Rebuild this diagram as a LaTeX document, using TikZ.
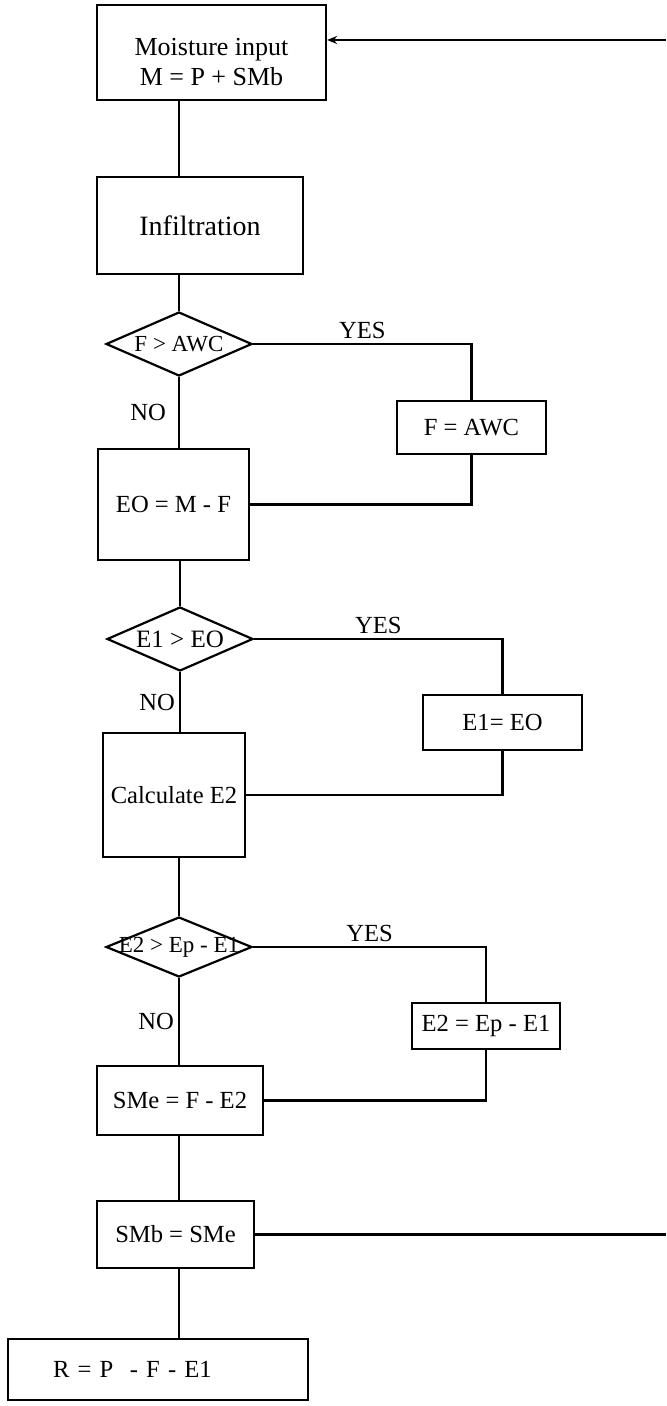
\documentclass[tikz,border=0pt]{standalone}
\usepackage{fontspec}
\setmainfont{Liberation Serif}
\usetikzlibrary{arrows.meta,shapes.geometric}

\begin{document}
\begin{tikzpicture}[x=0.5pt,y=-0.5pt,line width=1.1pt,>={Stealth[length=5pt,width=4pt,open]},
  every node/.style={font=\fontsize{12.3}{15}\selectfont},
  stepbox/.style={draw,rectangle,inner sep=0pt,align=center},
  test/.style={draw,diamond,inner sep=0pt,minimum width=73pt,minimum height=32pt},
  answer/.style={inner sep=2pt}]
\useasboundingbox (0,0) rectangle (666,1406);
% boxes of the main column
\node[stepbox,minimum width=114.5pt,minimum height=47.5pt,font=\fontsize{13}{15}\selectfont] (moist) at (211.5,52.5) {\rule{0pt}{18pt}Moisture input\\ M = P + SMb};
\node[stepbox,minimum width=103pt,minimum height=48.5pt,font=\fontsize{14}{16}\selectfont] (infil) at (200,225.5) {Infiltration};
\node[test,label={center:{\fontsize{11.5}{13}\selectfont F > AWC}}] (dec1) at (179,344) {};
\node[stepbox,minimum width=75.5pt,minimum height=55.5pt] (eo) at (173.5,504.5) {EO = M - F};
\node[test,label={center:{\fontsize{12.5}{13}\selectfont E1 > EO}}] (dec2) at (180,639) {};
\node[stepbox,minimum width=71pt,minimum height=62pt] (calc) at (174,795) {Calculate E2};
\node[test,minimum height=30pt,label={center:{\fontsize{11.5}{13}\selectfont E2 > Ep - E1}}] (dec3) at (179,947) {};
\node[stepbox,minimum width=83pt,minimum height=34.5pt] (sme) at (180,1100.5) {SMe = F - E2};
\node[stepbox,minimum width=78.5pt,minimum height=33.5pt] (smb) at (175.5,1234.5) {SMb = SMe};
\node[stepbox,minimum width=150pt,minimum height=30.5pt,text width=105pt,inner xsep=22.5pt,align=left] (rbox) at (158,1369.5) {R = P \ - F - E1};
% boxes of the YES branches
\node[stepbox,minimum width=74.5pt,minimum height=26.5pt] (fawc) at (471.5,427.5) {F = AWC};
\node[stepbox,minimum width=79.5pt,minimum height=27.5pt] (e1eo) at (502.5,722.5) {E1= EO};
\node[stepbox,minimum width=74pt,minimum height=23pt] (e2ep) at (486,1026) {E2 = Ep - E1};
% loop ends at the page edge
\coordinate (loopin) at (666,40);
\coordinate (loopout) at (666,1234.5);

\draw[->] (loopin) -- (loopin -| moist.east);
\draw (moist.south -| dec1) -- (infil.north -| dec1);
\draw (infil.south -| dec1) -- (dec1.north);
\draw (dec1.east) -| (fawc.north) node[answer,pos=0.25,above]{YES};
\draw (dec1.south) -- (eo.north -| dec1.south) node[answer,midway,left=4pt]{NO};
\draw (fawc.south) |- (eo.east);
\draw (eo.south -| dec2) -- (dec2.north);
\draw (dec2.east) -| (e1eo.north) node[answer,pos=0.25,above]{YES};
\draw (dec2.south) -- (calc.north -| dec2.south) node[answer,midway,left=0pt]{NO};
\draw (e1eo.south) |- (calc.east);
\draw (calc.south -| dec3) -- (dec3.north);
\draw (dec3.east) -| (e2ep.north) node[answer,pos=0.25,above]{YES};
\draw (dec3.south) -- (sme.north -| dec3.south) node[answer,midway,left=0pt]{NO};
\draw (e2ep.south) |- (sme.east);
\draw (sme.south -| dec3) -- (smb.north -| dec3);
\draw (smb.south -| dec3) -- (rbox.north -| dec3);
\draw (smb.east) -- (loopout);
\end{tikzpicture}
\end{document}
